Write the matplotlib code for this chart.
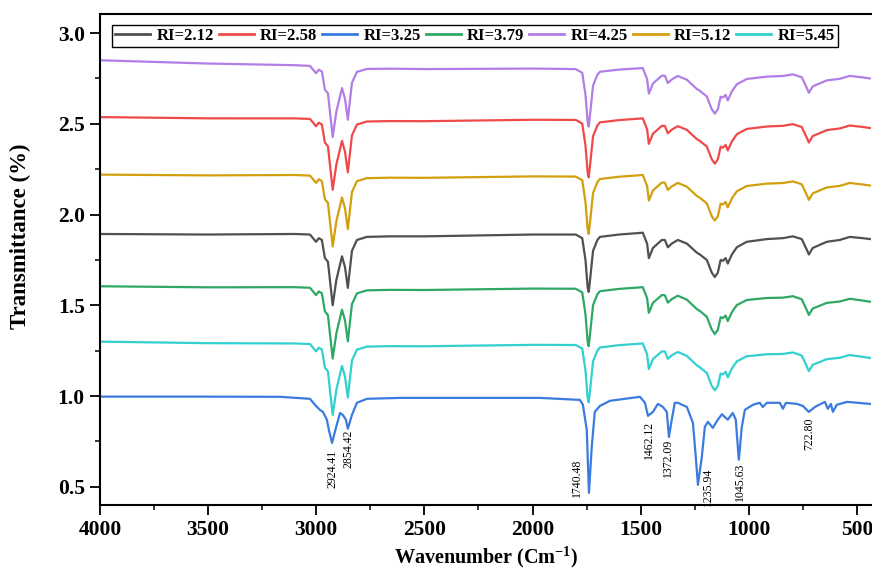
import numpy as np
import matplotlib
matplotlib.use("Agg")
from matplotlib import pyplot as plt
from matplotlib.ticker import MultipleLocator

plt.rcParams['font.family'] = ['Liberation Serif', 'DejaVu Serif']
plt.rcParams['font.weight'] = 'bold'
plt.rcParams['mathtext.fontset'] = 'custom'
plt.rcParams['mathtext.rm'] = 'Liberation Serif:bold'
plt.rcParams['mathtext.bf'] = 'Liberation Serif:bold'
plt.rcParams['mathtext.default'] = 'bf'

ester_wn = [4000, 3500, 3100, 3029, 3015, 3001, 2988, 2974, 2960, 2946, 2935, 2924,
            2907, 2881, 2867, 2854, 2835, 2812, 2766, 2659, 2500, 2000, 1800, 1770,
            1755, 1745, 1740, 1733, 1720, 1700, 1688, 1600, 1490, 1470, 1462, 1443,
            1402, 1388, 1374, 1356, 1328, 1286, 1240, 1226, 1194, 1171, 1157, 1143,
            1130, 1120, 1107, 1097, 1078, 1055, 1009, 916, 842, 796, 755, 731, 722,
            704, 639, 579, 533, 473, 440]
ester_t = [1.893, 1.890, 1.893, 1.890, 1.870, 1.850, 1.870, 1.860, 1.760, 1.740, 1.620, 1.500,
           1.640, 1.770, 1.710, 1.596, 1.800, 1.860, 1.877, 1.880, 1.880, 1.890, 1.890, 1.870,
           1.750, 1.600, 1.574, 1.650, 1.800, 1.860, 1.877, 1.890, 1.900, 1.840, 1.760, 1.816,
           1.860, 1.860, 1.820, 1.840, 1.860, 1.840, 1.790, 1.780, 1.750, 1.680, 1.656, 1.680,
           1.750, 1.745, 1.760, 1.730, 1.780, 1.820, 1.850, 1.865, 1.870, 1.880, 1.865, 1.805, 1.780,
           1.816, 1.850, 1.860, 1.877, 1.870, 1.865]

# baseline readings of every ester trace at a few anchor wavenumbers
anchor_wn = [440, 1490, 3100, 4000]
base_gray = [1.865, 1.900, 1.893, 1.893]
base_red = [2.477, 2.530, 2.530, 2.537]
base_green = [1.520, 1.600, 1.600, 1.605]
base_purple = [2.750, 2.807, 2.823, 2.850]
base_gold = [2.160, 2.218, 2.218, 2.220]
base_cyan = [1.210, 1.290, 1.290, 1.300]

# RI=3.25 trace
blue_wn = [4000, 3500, 3168, 3029, 3006, 2983, 2969, 2951, 2941, 2927, 2909, 2890, 2877,
           2863, 2854, 2835, 2812, 2766, 2613, 2300, 1966, 1781, 1767, 1749, 1739, 1726,
           1712, 1688, 1642, 1503, 1480, 1466, 1443, 1420, 1397, 1379, 1369, 1356, 1342,
           1328, 1286, 1258, 1245, 1235, 1217, 1203, 1189, 1166, 1143, 1124, 1111, 1097,
           1074, 1060, 1046, 1032, 1018, 981, 949, 935, 916, 856, 842, 828, 778, 750, 722,
           694, 648, 634, 620, 611, 593, 546, 495, 440]
blue_t = [0.997, 0.997, 0.996, 0.985, 0.952, 0.924, 0.913, 0.870, 0.810, 0.742, 0.825, 0.907, 0.896,
          0.870, 0.820, 0.896, 0.963, 0.985, 0.990, 0.990, 0.990, 0.979, 0.952, 0.814, 0.467, 0.720,
          0.913, 0.946, 0.974, 0.996, 0.963, 0.891, 0.913, 0.957, 0.940, 0.913, 0.775, 0.870, 0.963,
          0.963, 0.940, 0.852, 0.665, 0.511, 0.665, 0.830, 0.858, 0.825, 0.870, 0.900, 0.885, 0.870,
          0.907, 0.870, 0.649, 0.830, 0.924, 0.952, 0.963, 0.940, 0.963, 0.963, 0.930, 0.963, 0.957,
          0.946, 0.913, 0.940, 0.968, 0.930, 0.957, 0.913, 0.952, 0.968, 0.963, 0.957]

labels = ["RI=2.12", "RI=2.58", "RI=3.25", "RI=3.79", "RI=4.25", "RI=5.12", "RI=5.45"]
colors = ["#505050", "#ef4a4a", "#3b7be0", "#2fa866", "#b27ee6", "#d29f0e", "#33d0d0"]
bases = [base_gray, base_red, None, base_green, base_purple, base_gold, base_cyan]

peak_text = ["2924.41", "2854.42", "1740.48", "1462.12", "1372.09", "1235.94", "1045.63", "722.80"]
peak_x = [2924, 2852, 1795, 1462, 1372, 1187, 1040, 722]
peak_y = [0.705, 0.815, 0.655, 0.865, 0.765, 0.605, 0.632, 0.88]

fig = plt.figure(figsize=(8.72, 5.71), dpi=100)
ax = fig.add_axes([0.1147, 0.1156, 0.8853, 0.8599])

wn = np.array(ester_wn)
for lab, col, base in zip(labels, colors, bases):
    if base is None:
        ax.plot(blue_wn, blue_t, color=col, lw=1.6, label=lab)
    else:
        shift = np.interp(wn, anchor_wn, np.array(base) - np.array(base_gray))
        ax.plot(wn, np.array(ester_t) + shift, color=col, lw=1.6, label=lab)

for txt, x, y in zip(peak_text, peak_x, peak_y):
    ax.text(x, y, txt, rotation=90, ha='center', va='top', fontsize=8.5, fontweight='normal')

ax.set_xlim(4000, 430)
ax.set_ylim(0.40, 3.105)
ax.xaxis.set_major_locator(MultipleLocator(500))
ax.xaxis.set_minor_locator(MultipleLocator(250))
ax.yaxis.set_major_locator(MultipleLocator(0.5))
ax.yaxis.set_minor_locator(MultipleLocator(0.25))
ax.tick_params(which='major', direction='out', length=7, width=1.3, labelsize=15.5, pad=4)
ax.tick_params(which='minor', direction='out', length=3.5, width=1.1)
for s in ['left', 'bottom', 'top']:
    ax.spines[s].set_linewidth(1.5)
ax.spines['right'].set_visible(False)

ax.set_xlabel("Wavenumber (Cm$^{-1}$)", fontsize=14.5, fontweight='bold')
ax.xaxis.set_label_coords(0.5, -0.08)
ax.set_ylabel("Transmittance (%)", fontsize=16.5, fontweight='bold')
ax.yaxis.set_label_coords(-0.089, 0.548)

leg = ax.legend(loc='upper left', bbox_to_anchor=(0.0155, 0.978), ncol=7, fontsize=12,
                frameon=True, fancybox=False, edgecolor='black', framealpha=1,
                handlelength=2.1, handletextpad=0.37, columnspacing=0.3, borderpad=0.2,
                borderaxespad=0)
leg.get_frame().set_linewidth(1.0)
for line in leg.get_lines():
    line.set_linewidth(2.0)

fig.savefig("out.png", dpi=100)
